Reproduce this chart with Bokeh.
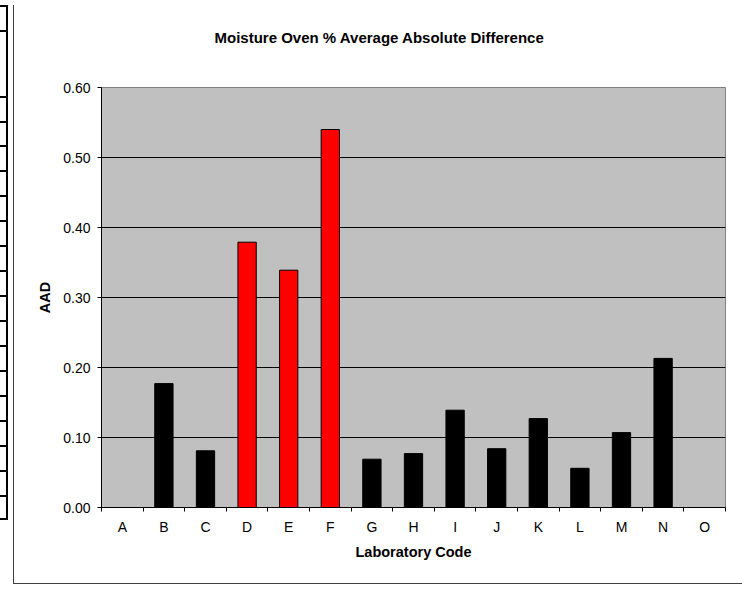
import numpy as np
from bokeh.plotting import figure
from bokeh.models import (ColumnDataSource, FixedTicker, Range1d, PrintfTickFormatter, Title)
from bokeh.embed import file_html
from bokeh.resources import INLINE

# ---- data ----
labs = ["A", "B", "C", "D", "E", "F", "G", "H", "I", "J", "K", "L", "M", "N", "O"]
aad = [None, 0.177, 0.081, 0.379, 0.339, 0.540, 0.069, 0.077, 0.139, 0.084,
       0.127, 0.056, 0.107, 0.213, None]
flagged = ["D", "E", "F"]
y_ticks = [0.0, 0.1, 0.2, 0.3, 0.4, 0.5, 0.6]
title_text = "Moisture Oven % Average Absolute Difference"
x_title = "Laboratory Code"
y_title = "AAD"

FONT = "Liberation Sans"

x = np.arange(len(labs)) + 0.5
top = np.array([np.nan if v is None else v for v in aad], dtype=float)
colors = ["#FF0000" if l in flagged else "#000000" for l in labs]
src = ColumnDataSource(dict(x=x, top=top, color=colors, lab=labs))

p = figure(width=742, height=595, output_backend="svg", toolbar_location=None,
           title_location=None,
           x_range=Range1d(0, len(labs)), y_range=Range1d(y_ticks[0], y_ticks[-1]),
           min_border_left=101, min_border_right=17, min_border_top=87,
           min_border_bottom=88)

p.background_fill_color = "#C0C0C0"
p.border_fill_color = None
p.outline_line_color = "#808080"
p.outline_line_width = 1

p.vbar(x="x", top="top", bottom=0, width=0.44, fill_color="color",
       line_color="black", line_width=1, source=src)

# title: a spacer panel next to the frame, then the real title above it
p.add_layout(Title(text=" ", text_font=FONT, text_font_size="15px", standoff=23), "above")
p.add_layout(Title(text=title_text, align="left", offset=113, standoff=0,
                   text_font=FONT, text_font_style="bold", text_font_size="15px",
                   text_color="black"), "above")

# x axis
xa = p.xaxis[0]
xa.ticker = FixedTicker(ticks=[float(v) for v in x],
                        minor_ticks=[float(i) for i in range(len(labs) + 1)])
xa.major_label_overrides = {float(v): l for v, l in zip(x, labs)}
xa.major_tick_line_color = None
xa.major_tick_out = 4
xa.major_tick_in = 0
xa.minor_tick_line_color = "black"
xa.minor_tick_out = 4
xa.minor_tick_in = 0
xa.axis_line_color = "black"
xa.major_label_text_font = FONT
xa.major_label_text_font_size = "14px"
xa.major_label_text_color = "black"
xa.major_label_standoff = 7
xa.axis_label = x_title
xa.axis_label_text_font = FONT
xa.axis_label_text_font_style = "bold"
xa.axis_label_text_font_size = "14.5px"
xa.axis_label_text_color = "black"
xa.axis_label_standoff = 6

# y axis
ya = p.yaxis[0]
ya.ticker = FixedTicker(ticks=y_ticks)
ya.formatter = PrintfTickFormatter(format="%.2f")
ya.major_tick_out = 4
ya.major_tick_in = 0
ya.major_tick_line_color = "black"
ya.minor_tick_line_color = None
ya.axis_line_color = "black"
ya.major_label_text_font = FONT
ya.major_label_text_font_size = "14px"
ya.major_label_text_color = "black"
ya.major_label_standoff = 7
ya.axis_label = y_title
ya.axis_label_text_font = FONT
ya.axis_label_text_font_style = "bold"
ya.axis_label_text_font_size = "14.5px"
ya.axis_label_text_color = "black"
ya.axis_label_standoff = 7

# grid
p.xgrid.visible = False
p.ygrid.ticker = FixedTicker(ticks=y_ticks[1:-1])
p.ygrid.grid_line_color = "black"
p.ygrid.grid_line_width = 1

# page decoration: chart-area border (left/bottom) and the cut-off table edge at far left
table_rows = [5, 30, 96, 121, 145, 170, 195, 220, 245, 270, 295, 320, 345, 370,
              395, 420, 445, 470, 495, 518]
imgs, sizes, poss = [], [], []
imgs += ["linear-gradient(#404040,#404040)"] * 2
sizes += ["1px 579px", "740px 1px"]
poss += ["13px 5px", "13px 583px"]
imgs.append("linear-gradient(#000,#000)")
sizes.append("2px 515px")
poss.append("6px 5px")
for r in table_rows:
    imgs.append("linear-gradient(#000,#000)")
    sizes.append("8px 2px")
    poss.append(f"0px {r}px")
p.styles = {
    "background-color": "white",
    "background-image": ", ".join(imgs),
    "background-size": ", ".join(sizes),
    "background-position": ", ".join(poss),
    "background-repeat": "no-repeat",
}

open("out.html", "w").write(file_html(p, INLINE))
